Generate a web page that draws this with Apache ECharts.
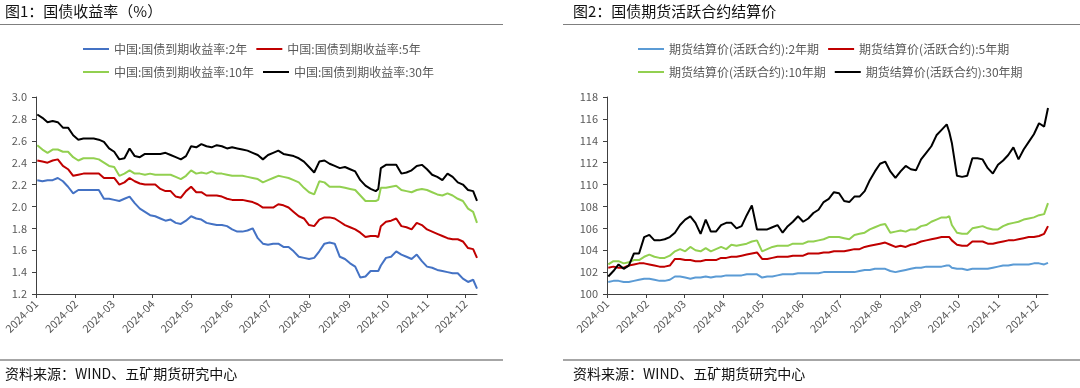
<!DOCTYPE html>
<html>
<head>
<meta charset="utf-8">
<script src="https://cdn.jsdelivr.net/npm/echarts@6/dist/echarts.min.js"></script>
<style>
html,body{margin:0;padding:0;background:#fff;}
#c{width:1080px;height:388px;}
</style>
</head>
<body>
<div id="c"></div>
<script>
// ---------- data ----------
const dates = [
'2024-01-02','2024-01-06','2024-01-10','2024-01-14','2024-01-18','2024-01-22','2024-01-26','2024-01-30',
'2024-02-03','2024-02-07','2024-02-11','2024-02-15','2024-02-19','2024-02-23','2024-02-27',
'2024-03-02','2024-03-06','2024-03-10','2024-03-14','2024-03-18','2024-03-22','2024-03-26','2024-03-30',
'2024-04-03','2024-04-07','2024-04-11','2024-04-15','2024-04-19','2024-04-23','2024-04-27',
'2024-05-01','2024-05-05','2024-05-09','2024-05-13','2024-05-17','2024-05-21','2024-05-25','2024-05-29',
'2024-06-02','2024-06-06','2024-06-10','2024-06-14','2024-06-18','2024-06-22','2024-06-26','2024-06-30',
'2024-07-04','2024-07-08','2024-07-12','2024-07-16','2024-07-20','2024-07-24','2024-07-28',
'2024-08-01','2024-08-05','2024-08-09','2024-08-13','2024-08-17','2024-08-21','2024-08-25','2024-08-29',
'2024-09-02','2024-09-06','2024-09-10','2024-09-14','2024-09-18','2024-09-22','2024-09-24','2024-09-26','2024-09-30',
'2024-10-04','2024-10-08','2024-10-12','2024-10-16','2024-10-20','2024-10-24','2024-10-28',
'2024-11-01','2024-11-05','2024-11-09','2024-11-13','2024-11-17','2024-11-21','2024-11-25','2024-11-29',
'2024-12-03','2024-12-07','2024-12-10'
];

// Chart 1: yields (%)
const yieldNames = ['中国:国债到期收益率:2年','中国:国债到期收益率:5年','中国:国债到期收益率:10年','中国:国债到期收益率:30年'];
const y2 = [
2.24,2.23,2.24,2.24,2.26,2.23,2.18,2.12,
2.15,2.15,2.15,2.15,2.15,2.07,2.07,
2.06,2.05,2.07,2.09,2.03,1.98,1.95,1.92,
1.91,1.89,1.87,1.88,1.85,1.84,1.87,
1.91,1.89,1.88,1.85,1.84,1.83,1.83,1.82,
1.79,1.77,1.77,1.78,1.80,1.71,1.66,1.65,
1.66,1.66,1.63,1.63,1.59,1.54,1.53,
1.52,1.53,1.59,1.66,1.67,1.66,1.54,1.52,
1.48,1.45,1.35,1.36,1.41,1.41,1.41,1.46,1.53,
1.54,1.59,1.56,1.54,1.52,1.56,1.50,
1.45,1.44,1.42,1.41,1.40,1.39,1.39,1.34,
1.31,1.33,1.25];
const y5 = [
2.42,2.41,2.40,2.42,2.43,2.37,2.34,2.28,
2.29,2.30,2.30,2.30,2.30,2.26,2.26,
2.26,2.20,2.22,2.26,2.23,2.21,2.20,2.20,
2.20,2.16,2.14,2.14,2.09,2.08,2.14,
2.18,2.13,2.13,2.10,2.10,2.10,2.09,2.07,
2.06,2.06,2.06,2.05,2.04,2.02,1.99,1.99,
1.99,2.02,2.01,1.99,1.95,1.91,1.89,
1.83,1.82,1.88,1.90,1.90,1.89,1.86,1.83,
1.81,1.79,1.76,1.72,1.73,1.73,1.72,1.82,1.86,
1.87,1.89,1.82,1.81,1.79,1.85,1.83,
1.79,1.77,1.75,1.73,1.71,1.70,1.70,1.68,
1.62,1.61,1.53];
const y10 = [
2.56,2.52,2.49,2.52,2.52,2.50,2.50,2.45,
2.42,2.44,2.44,2.44,2.43,2.40,2.37,
2.36,2.28,2.30,2.33,2.30,2.30,2.29,2.30,
2.29,2.29,2.29,2.29,2.27,2.25,2.28,
2.33,2.30,2.31,2.30,2.32,2.30,2.30,2.29,
2.28,2.28,2.28,2.27,2.26,2.25,2.22,2.24,
2.26,2.28,2.27,2.26,2.24,2.22,2.17,
2.13,2.11,2.23,2.22,2.18,2.18,2.18,2.17,
2.16,2.15,2.10,2.05,2.05,2.05,2.06,2.17,2.17,
2.18,2.19,2.15,2.14,2.13,2.15,2.16,
2.15,2.13,2.11,2.10,2.12,2.10,2.07,2.05,
1.98,1.95,1.85];
const y30 = [
2.84,2.81,2.77,2.78,2.77,2.72,2.72,2.65,
2.61,2.62,2.62,2.62,2.61,2.59,2.53,
2.50,2.43,2.44,2.53,2.46,2.45,2.48,2.48,
2.48,2.48,2.49,2.47,2.45,2.43,2.46,
2.55,2.54,2.57,2.55,2.54,2.56,2.55,2.53,
2.54,2.53,2.52,2.51,2.49,2.47,2.43,2.47,
2.49,2.51,2.48,2.47,2.46,2.44,2.41,
2.36,2.31,2.41,2.42,2.39,2.37,2.35,2.36,
2.34,2.32,2.24,2.19,2.16,2.14,2.16,2.35,2.38,
2.38,2.38,2.30,2.31,2.33,2.37,2.38,
2.34,2.29,2.27,2.24,2.30,2.27,2.22,2.20,
2.15,2.14,2.05];

// Chart 2: futures settlement prices
const futNames = ['期货结算价(活跃合约):2年期','期货结算价(活跃合约):5年期','期货结算价(活跃合约):10年期','期货结算价(活跃合约):30年期'];
const f2 = [
101.1,101.2,101.2,101.1,101.1,101.2,101.3,101.4,
101.4,101.3,101.2,101.2,101.3,101.6,101.6,
101.5,101.4,101.5,101.5,101.6,101.5,101.6,101.6,
101.7,101.7,101.7,101.7,101.8,101.8,101.8,
101.5,101.6,101.6,101.7,101.8,101.8,101.8,101.9,
101.9,101.9,101.9,101.9,102.0,102.0,102.0,102.0,
102.0,102.0,102.0,102.1,102.2,102.2,102.3,
102.3,102.3,102.1,102.0,102.1,102.2,102.3,102.4,
102.4,102.5,102.5,102.5,102.5,102.6,102.6,102.4,102.3,
102.3,102.2,102.3,102.3,102.3,102.3,102.4,
102.5,102.6,102.6,102.7,102.7,102.7,102.7,102.8,
102.8,102.7,102.85];
const f5 = [
102.4,102.5,102.4,102.4,102.6,102.7,102.8,102.8,
102.7,102.6,102.5,102.5,102.6,103.2,103.2,
103.1,103.1,103.0,103.0,103.1,103.1,103.1,103.3,
103.3,103.4,103.4,103.5,103.6,103.7,103.8,
103.2,103.2,103.3,103.4,103.4,103.4,103.5,103.5,
103.5,103.7,103.7,103.7,103.8,103.8,103.9,103.9,
103.9,104.0,104.1,104.1,104.3,104.4,104.5,
104.6,104.7,104.5,104.3,104.4,104.3,104.5,104.6,
104.8,104.9,105.0,105.1,105.2,105.2,105.2,104.9,104.5,
104.4,104.4,104.8,104.8,104.8,104.6,104.6,
104.7,104.8,104.9,104.9,105.0,105.1,105.2,105.2,
105.3,105.5,106.2];
const f10 = [
102.7,103.0,103.0,102.8,102.9,103.1,103.1,103.4,
103.6,103.4,103.3,103.3,103.5,103.9,104.1,
103.9,104.3,104.0,103.9,104.2,103.9,104.1,104.3,
104.1,104.5,104.4,104.5,104.6,104.8,104.9,
103.9,104.1,104.3,104.4,104.4,104.4,104.6,104.6,
104.6,104.8,104.8,104.9,105.0,105.2,105.2,105.2,
105.1,105.0,105.4,105.5,105.6,105.9,106.1,
106.3,106.4,105.6,105.7,105.8,105.7,105.9,105.9,
106.2,106.3,106.6,106.8,107.0,107.0,107.1,106.3,105.6,
105.5,105.5,106.0,106.1,106.2,106.0,105.9,
105.9,106.2,106.4,106.5,106.6,106.8,106.9,107.0,
107.2,107.3,108.3];
const f30 = [
101.6,102.1,102.7,102.3,102.6,103.7,103.7,105.2,
105.4,104.9,104.9,105.0,105.2,105.6,106.3,
106.8,107.1,106.5,105.5,106.8,105.7,105.7,106.3,
106.5,106.5,106.0,106.2,107.2,108.1,105.9,
105.9,105.9,106.1,106.3,105.6,106.2,106.6,107.1,
106.6,106.9,107.4,107.7,108.4,108.7,109.3,109.2,
108.5,108.4,108.9,108.9,109.4,110.4,111.2,
111.9,112.1,111.2,110.6,111.2,111.7,111.4,111.3,
112.3,112.9,113.5,114.5,115.0,115.5,114.8,113.8,110.8,
110.7,110.8,112.4,112.4,112.3,111.5,111.0,
111.8,112.2,112.7,113.4,112.3,113.2,113.9,114.6,
115.6,115.3,117.0];

const leftTicks = {min: 1.2, max: 3.0, interval: 0.2};
const rightTicks = {min: 100, max: 118, interval: 2};
const xRange = {min: '2024-01-01', max: '2024-12-10'};

const colorsL = ['#4472C4', '#C00000', '#92D050', '#000000'];
const colorsR = ['#5B9BD5', '#C00000', '#92D050', '#000000'];

// ---------- chart ----------
const FONT = '"Noto Sans CJK SC", "Noto Sans", sans-serif';
const chart = echarts.init(document.getElementById('c'), null, {renderer: 'canvas'});
const pair = (arr) => dates.map((d, i) => [d, arr[i]]);

function xAxis(gi) {
  return {
    type: 'time', gridIndex: gi, min: xRange.min, max: xRange.max,
    splitNumber: 12, minInterval: 28 * 864e5, maxInterval: 31 * 864e5,
    axisLine: {show: true, lineStyle: {color: '#404040', width: 1}},
    axisTick: {show: true, inside: false, length: 4, lineStyle: {color: '#404040'}},
    splitLine: {show: false},
    axisLabel: {
      formatter: '{yyyy}-{MM}', rotate: 45, margin: 8, color: '#595959',
      fontSize: 11, fontFamily: FONT, hideOverlap: false, showMaxLabel: false
    }
  };
}
function yAxis(gi, t, fmt) {
  return {
    type: 'value', gridIndex: gi, min: t.min, max: t.max, interval: t.interval,
    axisLine: {show: true, lineStyle: {color: '#404040', width: 1}},
    axisTick: {show: true, inside: false, length: 4, lineStyle: {color: '#404040'}},
    splitLine: {show: false},
    axisLabel: {color: '#595959', fontSize: 11, fontFamily: FONT, margin: 9, formatter: fmt}
  };
}
function line(name, data, color, xi) {
  return {
    name, type: 'line', xAxisIndex: xi, yAxisIndex: xi, data: pair(data),
    showSymbol: false, symbol: 'none', lineStyle: {width: 2, color}, itemStyle: {color},
    animation: false, z: 2
  };
}
function legend(left, top, names) {
  return {
    left, top, padding: 0, itemGap: 9, itemWidth: 26, itemHeight: 2, icon: 'rect',
    data: names, textStyle: {color: '#595959', fontSize: 12, fontFamily: FONT},
    selectedMode: false
  };
}

const option = {
  backgroundColor: '#ffffff',
  animation: false,
  title: [
    {text: '图1：国债收益率（%）', left: 5, top: 4, padding: 0,
     textStyle: {fontSize: 15, fontWeight: 'normal', color: '#111', fontFamily: FONT}},
    {text: '图2：国债期货活跃合约结算价', left: 573, top: 4, padding: 0,
     textStyle: {fontSize: 15, fontWeight: 'normal', color: '#111', fontFamily: FONT}}
  ],
  legend: [
    legend(83, 43, [yieldNames[0], yieldNames[1]]),
    legend(83, 66, [yieldNames[2], yieldNames[3]]),
    legend(638, 43, [futNames[0], futNames[1]]),
    legend(638, 66, [futNames[2], futNames[3]])
  ],
  grid: [
    {left: 36, top: 97, width: 441, height: 197},
    {left: 607, top: 97, width: 441, height: 197}
  ],
  xAxis: [xAxis(0), xAxis(1)],
  yAxis: [
    yAxis(0, leftTicks, (v) => v.toFixed(1)),
    yAxis(1, rightTicks, (v) => String(v))
  ],
  series: [
    line(yieldNames[0], y2, colorsL[0], 0),
    line(yieldNames[1], y5, colorsL[1], 0),
    line(yieldNames[2], y10, colorsL[2], 0),
    line(yieldNames[3], y30, colorsL[3], 0),
    line(futNames[0], f2, colorsR[0], 1),
    line(futNames[1], f5, colorsR[1], 1),
    line(futNames[2], f10, colorsR[2], 1),
    line(futNames[3], f30, colorsR[3], 1)
  ],
  graphic: [
    {type: 'line', shape: {x1: 0, y1: 24.5, x2: 503, y2: 24.5}, style: {stroke: '#7f7f7f', lineWidth: 1.2}},
    {type: 'line', shape: {x1: 563, y1: 24.5, x2: 1080, y2: 24.5}, style: {stroke: '#7f7f7f', lineWidth: 1.2}},
    {type: 'line', shape: {x1: 0, y1: 360, x2: 503, y2: 360}, style: {stroke: '#a6a6a6', lineWidth: 2}},
    {type: 'line', shape: {x1: 563, y1: 360, x2: 1080, y2: 360}, style: {stroke: '#a6a6a6', lineWidth: 2}},
    {type: 'text', left: 5, top: 367, style: {text: '资料来源：WIND、五矿期货研究中心', fill: '#111', fontSize: 14, fontFamily: FONT}},
    {type: 'text', left: 573, top: 367, style: {text: '资料来源：WIND、五矿期货研究中心', fill: '#111', fontSize: 14, fontFamily: FONT}}
  ]
};
chart.setOption(option);
</script>
</body>
</html>
